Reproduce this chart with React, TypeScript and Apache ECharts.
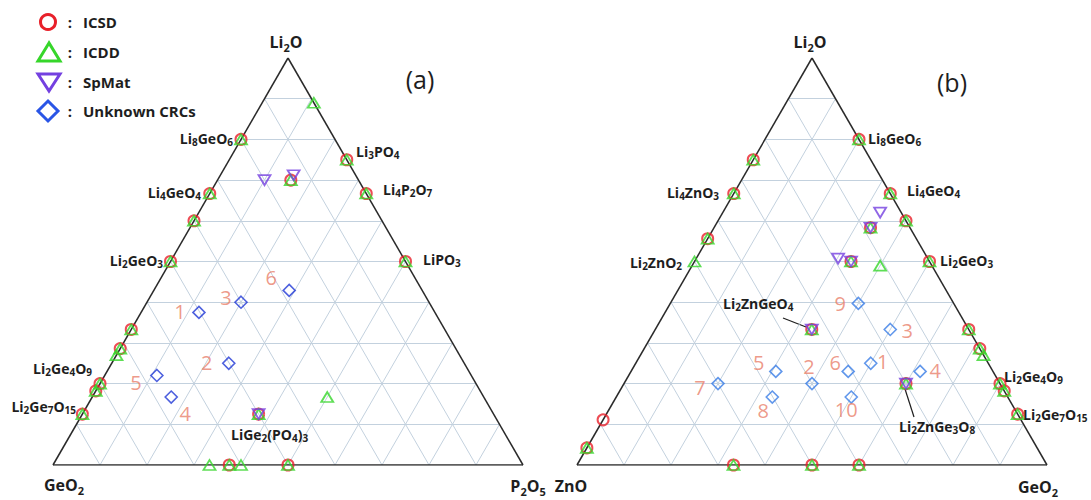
import React, { useEffect, useRef } from "react";
import * as echarts from "echarts";

const S3 = Math.sqrt(3) / 2;
const FONT = '"Open Sans", "Noto Sans", sans-serif';

// Panel (a): vertices Li2O (top), GeO2 (left), P2O5 (right). Point = [Li2O, P2O5] fraction
const aICSD = [
  [0.8, 0], [0.667, 0], [0.6, 0], [0.5, 0], [0.333, 0], [0.286, 0], [0.2, 0], [0.182, 0], [0.125, 0],
  [0.75, 0.25], [0.667, 0.333], [0.5, 0.5],
  [0, 0.375], [0, 0.5],
  [0.7, 0.156], [0.125, 0.375],
];
const aICDD = [
  [0.8, 0], [0.667, 0], [0.6, 0], [0.5, 0], [0.333, 0], [0.286, 0], [0.27, 0], [0.2, 0], [0.182, 0], [0.125, 0],
  [0.89, 0.11], [0.75, 0.25], [0.667, 0.333], [0.5, 0.5],
  [0, 0.333], [0, 0.375], [0, 0.4], [0, 0.5],
  [0.7, 0.156], [0.125, 0.375], [0.167, 0.5],
];
const aSpMat = [[0.7, 0.1], [0.712, 0.156], [0.125, 0.375]];
const aUnknown = [[0.375, 0.123], [0.4, 0.2], [0.429, 0.288], [0.25, 0.249], [0.22, 0.111], [0.167, 0.168]];
const aUnknownIds = ["1", "3", "6", "2", "5", "4"];

// Panel (b): vertices Li2O (top), ZnO (left), GeO2 (right). Point = [Li2O, GeO2] fraction
const bICSD = [
  [0.75, 0], [0.667, 0], [0.556, 0], [0.111, 0], [0.042, 0],
  [0, 0.333], [0, 0.5], [0, 0.6],
  [0.8, 0.2], [0.667, 0.333], [0.6, 0.4], [0.5, 0.5], [0.333, 0.667], [0.286, 0.714], [0.2, 0.8], [0.182, 0.818], [0.125, 0.875],
  [0.583, 0.333], [0.5, 0.333], [0.333, 0.333], [0.2, 0.6],
];
const bICDD = [
  [0.75, 0], [0.667, 0], [0.556, 0], [0.5, 0], [0.042, 0],
  [0, 0.333], [0, 0.5], [0, 0.6],
  [0.8, 0.2], [0.667, 0.333], [0.6, 0.4], [0.5, 0.5], [0.333, 0.667], [0.286, 0.714], [0.27, 0.73], [0.2, 0.8], [0.182, 0.818], [0.125, 0.875],
  [0.583, 0.333], [0.5, 0.333], [0.333, 0.333], [0.2, 0.6], [0.49, 0.4],
];
const bSpMat = [[0.62, 0.335], [0.583, 0.333], [0.507, 0.302], [0.5, 0.333], [0.333, 0.333], [0.2, 0.6]];
const bUnknown = [
  [0.397, 0.4], [0.333, 0.5], [0.25, 0.5], [0.23, 0.615], [0.23, 0.462],
  [0.2, 0.4], [0.167, 0.5], [0.23, 0.308], [0.2, 0.2], [0.167, 0.332],
];
const bUnknownIds = ["9", "3", "1", "4", "6", "2", "10", "5", "7", "8"];

const gridTicks = [0.1, 0.2, 0.3, 0.4, 0.5, 0.6, 0.7, 0.8, 0.9];

// label layout (pixel offsets of the CRC numbers from their diamonds)
const aIdOffsets = [[-19, -1], [-15, -5], [-18, -13], [-22, -1], [-21, 7], [14, 16]];
const bIdOffsets = [[-18, 0], [17, 1], [12, -2], [15, -1], [-13, -9], [-3, -17], [-5, 12], [-17, -9], [-18, 4], [-9, 13]];

const RED = "#e8202a";
const GREEN = "#36d62a";
const PURPLE = "#7440e0";
const BLUE_A = "#2138d6";
const BLUE_B = "#3a7de6";
const SALMON = "#e97f6b";
const INK = "#1e1e1e";

const toXY = (p: number[]) => [p[1] + p[0] / 2, p[0] * S3];

function gridLines() {
  const segs: number[][][] = [];
  gridTicks.forEach((t) => {
    segs.push([toXY([t, 0]), toXY([t, 1 - t])]);
    segs.push([toXY([0, t]), toXY([1 - t, t])]);
    segs.push([toXY([0, 1 - t]), toXY([1 - t, 0])]);
  });
  return segs.map((c) => ({ coords: c }));
}

function panelSeries(idx: number, icsd: number[][], icdd: number[][], spmat: number[][], unk: number[][], ids: string[], offs: number[][], blue: string) {
  const ax = { xAxisIndex: idx, yAxisIndex: idx };
  return [
    {
      type: "lines", coordinateSystem: "cartesian2d", ...ax, silent: true, z: 1,
      lineStyle: { color: "#c3d1de", width: 1, opacity: 1 },
      data: gridLines(),
    },
    {
      type: "lines", coordinateSystem: "cartesian2d", ...ax, silent: true, z: 2,
      lineStyle: { color: "#2a2a2a", width: 1.5, opacity: 1 },
      data: [
        { coords: [toXY([0, 0]), toXY([0, 1])] },
        { coords: [toXY([0, 1]), toXY([1, 0])] },
        { coords: [toXY([1, 0]), toXY([0, 0])] },
      ],
    },
    {
      type: "scatter", ...ax, z: 3, symbol: "circle", symbolSize: 11,
      itemStyle: { color: "none", borderColor: RED, borderWidth: 2 },
      data: icsd.map(toXY),
    },
    {
      type: "scatter", ...ax, z: 4, symbol: "triangle", symbolSize: [12, 10],
      itemStyle: { color: "none", borderColor: GREEN, borderWidth: 1.8 },
      data: icdd.map(toXY),
    },
    {
      type: "scatter", ...ax, z: 5, symbol: "triangle", symbolRotate: 180, symbolSize: [12, 10],
      itemStyle: { color: "none", borderColor: PURPLE, borderWidth: 1.8 },
      data: spmat.map(toXY),
    },
    {
      type: "scatter", ...ax, z: 6, symbol: "diamond", symbolSize: 12,
      itemStyle: { color: "none", borderColor: blue, borderWidth: 1.6 },
      label: {
        show: true, position: "inside", color: SALMON, fontSize: 20, fontFamily: FONT,
        formatter: (p: any) => ids[p.dataIndex],
      },
      data: unk.map((p, i) => ({ value: toXY(p), label: { offset: offs[i] } })),
    },
  ];
}

function richText(text: string, x: number, y: number, align: string, size: number, weight = "bold") {
  return {
    type: "text", silent: true, x, y, z: 50,
    style: {
      text, align, verticalAlign: "middle", fill: INK,
      fontSize: size, fontWeight: weight, fontFamily: FONT,
      rich: {
        s: {
          fill: INK, fontSize: Math.round(size * 0.68), fontWeight: weight, fontFamily: FONT,
          padding: [Math.round(size * 0.6), 0, 0, 0],
        },
      },
    },
  };
}

const compoundLabels: [string, number, number, string][] = [
  ["Li{s|8}GeO{s|6}", 233, 138, "right"],
  ["Li{s|4}GeO{s|4}", 201, 192, "right"],
  ["Li{s|2}GeO{s|3}", 163, 260, "right"],
  ["Li{s|2}Ge{s|4}O{s|9}", 92, 368, "right"],
  ["Li{s|2}Ge{s|7}O{s|15}", 76, 406, "right"],
  ["Li{s|3}PO{s|4}", 356, 151, "left"],
  ["Li{s|4}P{s|2}O{s|7}", 383, 189, "left"],
  ["LiPO{s|3}", 423, 259, "left"],
  ["LiGe{s|2}(PO{s|4}){s|3}", 231, 434, "left"],
  ["Li{s|8}GeO{s|6}", 868, 138, "left"],
  ["Li{s|4}GeO{s|4}", 907, 190, "left"],
  ["Li{s|2}GeO{s|3}", 940, 260, "left"],
  ["Li{s|2}Ge{s|4}O{s|9}", 1004, 376, "left"],
  ["Li{s|2}Ge{s|7}O{s|15}", 1023, 414, "left"],
  ["Li{s|4}ZnO{s|3}", 719, 192, "right"],
  ["Li{s|2}ZnO{s|2}", 682, 262, "right"],
  ["Li{s|2}ZnGeO{s|4}", 723, 303, "left"],
  ["Li{s|2}ZnGe{s|3}O{s|8}", 899, 426, "left"],
];

const vertexLabels: [string, number, number][] = [
  ["Li{s|2}O", 286, 42],
  ["GeO{s|2}", 64, 485],
  ["P{s|2}O{s|5}", 528, 486],
  ["ZnO", 571, 486],
  ["Li{s|2}O", 810, 42],
  ["GeO{s|2}", 1038, 487],
];

const legendItems = ["ICSD", "ICDD", "SpMat", "Unknown CRCs"];
const legendRows = [22, 52, 82, 111];

function buildOption() {
  const graphic: any[] = [];
  compoundLabels.forEach(([t, x, y, a]) => graphic.push(richText(t, x, y, a, 14)));
  vertexLabels.forEach(([t, x, y]) => graphic.push(richText(t, x, y, "center", 16)));
  graphic.push({ type: "text", silent: true, x: 420, y: 79, style: { text: "(a)", align: "center", verticalAlign: "middle", fontSize: 25, fontFamily: FONT, fill: INK } });
  graphic.push({ type: "text", silent: true, x: 952, y: 82, style: { text: "(b)", align: "center", verticalAlign: "middle", fontSize: 25, fontFamily: FONT, fill: INK } });
  graphic.push({ type: "line", silent: true, shape: { x1: 783, y1: 318, x2: 806, y2: 327 }, style: { stroke: INK, lineWidth: 1.2 } });
  graphic.push({ type: "line", silent: true, shape: { x1: 905, y1: 389, x2: 914, y2: 417 }, style: { stroke: INK, lineWidth: 1.2 } });

  // legend
  const [r0, r1, r2, r3] = legendRows;
  graphic.push({ type: "circle", silent: true, shape: { cx: 48, cy: r0, r: 7.5 }, style: { fill: "none", stroke: RED, lineWidth: 3 } });
  graphic.push({ type: "polygon", silent: true, shape: { points: [[49, r1 - 9], [38, r1 + 9], [60, r1 + 9]] }, style: { fill: "none", stroke: GREEN, lineWidth: 3 } });
  graphic.push({ type: "polygon", silent: true, shape: { points: [[38, r2 - 8], [60, r2 - 8], [49, r2 + 9]] }, style: { fill: "none", stroke: PURPLE, lineWidth: 3 } });
  graphic.push({ type: "polygon", silent: true, shape: { points: [[48, r3 - 10], [58, r3], [48, r3 + 10], [38, r3]] }, style: { fill: "none", stroke: "#2a55e6", lineWidth: 3 } });
  legendItems.forEach((name, i) => {
    graphic.push({ type: "text", silent: true, x: 70, y: legendRows[i], style: { text: ":", align: "center", verticalAlign: "middle", fontSize: 15, fontWeight: "bold", fontFamily: FONT, fill: INK } });
    graphic.push({ type: "text", silent: true, x: 83, y: legendRows[i], style: { text: name, align: "left", verticalAlign: "middle", fontSize: 15, fontWeight: "bold", fontFamily: FONT, fill: INK } });
  });

  const axisCommon = { type: "value", show: false, splitLine: { show: false } };
  return {
    animation: false,
    backgroundColor: "#ffffff",
    grid: [
      { left: 53, top: 58, width: 470, height: 407 },
      { left: 577, top: 58, width: 470, height: 407 },
    ],
    xAxis: [
      { ...axisCommon, gridIndex: 0, min: 0, max: 1 },
      { ...axisCommon, gridIndex: 1, min: 0, max: 1 },
    ],
    yAxis: [
      { ...axisCommon, gridIndex: 0, min: 0, max: S3 },
      { ...axisCommon, gridIndex: 1, min: 0, max: S3 },
    ],
    series: [
      ...panelSeries(0, aICSD, aICDD, aSpMat, aUnknown, aUnknownIds, aIdOffsets, BLUE_A),
      ...panelSeries(1, bICSD, bICDD, bSpMat, bUnknown, bUnknownIds, bIdOffsets, BLUE_B),
    ],
    graphic,
  };
}

export default function App() {
  const ref = useRef<HTMLDivElement>(null);
  useEffect(() => {
    const chart = echarts.init(ref.current!, null, { renderer: "svg" });
    chart.setOption(buildOption() as any);
    return () => chart.dispose();
  }, []);
  return (
    <div
      ref={ref}
      style={{ position: "fixed", left: 0, top: 0, width: 1091, height: 500, background: "#fff" }}
    />
  );
}
